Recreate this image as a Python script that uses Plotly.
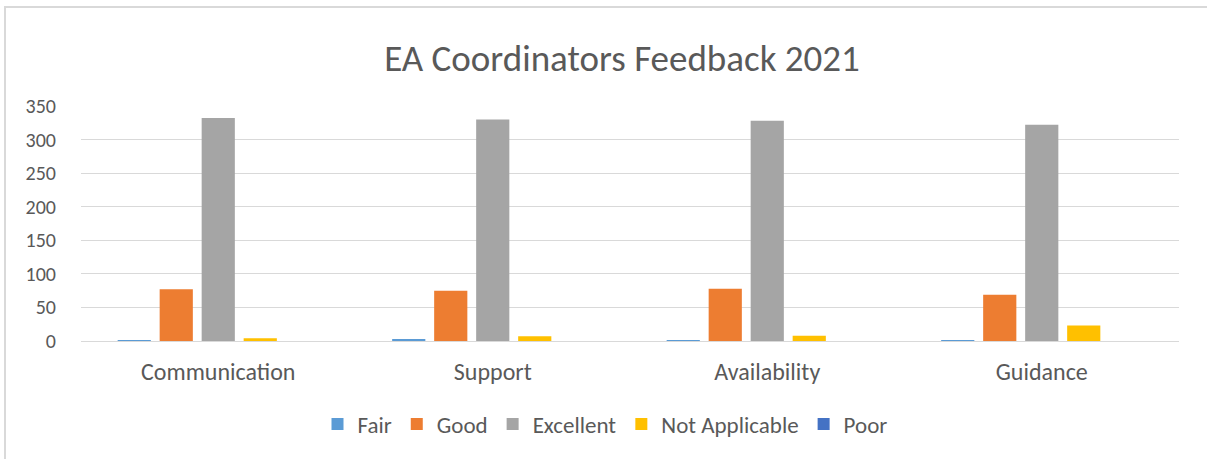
import plotly.graph_objects as go

categories = ["Communication", "Support", "Availability", "Guidance"]
fair = [1, 2, 1, 1]
good = [77, 75, 78, 69]
excellent = [332, 330, 328, 322]
not_applicable = [4, 7, 8, 23]
poor = [0, 0, 0, 0]

series = [
    ("Fair", fair, "#5B9BD5"),
    ("Good", good, "#ED7D31"),
    ("Excellent", excellent, "#A5A5A5"),
    ("Not Applicable", not_applicable, "#FFC000"),
    ("Poor", poor, "#4472C4"),
]

FONT = "Calibri, Carlito, Lato, sans-serif"
W, H = 1207, 459
L, R, T, B = 81, 28, 106, 118
pw, ph = W - L - R, H - T - B

fig = go.Figure()
for name, vals, color in series:
    fig.add_trace(go.Bar(x=categories, y=vals, name=name, marker_color=color,
                         marker_line_width=0))

def px_x(p):
    return (p - L) / pw

def px_y(p):
    return (H - B - p) / ph

fig.update_layout(
    width=W, height=H,
    margin=dict(l=L, r=R, t=T, b=B),
    paper_bgcolor="white", plot_bgcolor="white",
    barmode="group", bargap=0.235, bargroupgap=0.21,
    font=dict(family=FONT, color="#595959"),
    title=dict(text="EA Coordinators Feedback 2021", xref="container", x=622 / W,
               xanchor="center", yref="container", y=1 - 58 / H, yanchor="middle",
               font=dict(size=37, color="#595959")),
    xaxis=dict(showgrid=False, showline=True, linecolor="#D9D9D9", linewidth=1,
               ticks="outside", ticklen=9, tickcolor="rgba(0,0,0,0)",
               tickfont=dict(size=24, color="#595959")),
    yaxis=dict(range=[0, 350], dtick=50, showgrid=True, gridcolor="#D9D9D9",
               gridwidth=1, zeroline=False, ticks="outside", ticklen=20,
               tickcolor="rgba(0,0,0,0)", tickfont=dict(size=20, color="#595959")),
    legend=dict(orientation="h", x=px_x(605), xanchor="center", y=px_y(424),
                yanchor="middle", font=dict(size=23, color="#595959"),
                itemwidth=30, traceorder="normal"),
    showlegend=True,
)

fig.add_shape(type="path", xref="paper", yref="paper",
              path=f"M {px_x(5)} {px_y(470)} L {px_x(5)} {px_y(7)} L {px_x(1220)} {px_y(7)}",
              line=dict(color="#D9D9D9", width=2), layer="below")

fig.write_html("out.html", config={"displayModeBar": False},
               post_script="document.body.style.margin='0';document.body.style.overflow='hidden';")
